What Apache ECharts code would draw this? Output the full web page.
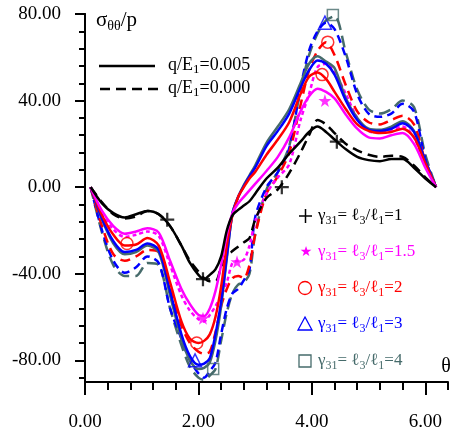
<!DOCTYPE html>
<html><head><meta charset="utf-8">
<script src="https://cdn.jsdelivr.net/npm/echarts@6/dist/echarts.min.js"></script>
<style>html,body{margin:0;padding:0;background:#fff}#c{width:457px;height:433px}</style>
</head><body><div id="c"></div>
<script>
// ---- data ----
const theta = [0.1,0.3,0.5,0.7,0.9,1.1,1.3,1.5,1.7,1.85,
  2.0,2.1,2.2,2.3,2.4,2.5,2.6,2.7,2.8,2.9,
  3.0,3.2,3.4,3.6,3.8,3.95,4.1,4.25,4.4,4.6,
  4.8,5.0,5.2,5.4,5.6,5.8,6.0,6.19];
const g1Solid = [0,-7.5,-12,-14,-12.5,-11,-12.5,-18,-27,-35,
  -40.5,-42.5,-40.5,-38,-32,-20,-13,-10.5,-8.5,-6.5,
  -3,4,9,15.5,21,25.5,28,25.5,22,17.5,
  14,12.5,12,13,13,9,4,0];
const g1Dash = [0,-7,-12.5,-14.5,-13.5,-11,-12.5,-18,-27,-34,
  -39,-42,-43.5,-43.5,-37,-32,-29.5,-27.5,-25.5,-23.5,
  -15,-5,-1,6.5,16,24,31,29,25,20,
  17,15,14,14.5,14,10,4.5,0];
const g15Solid = [0,-11,-18,-21.5,-20.5,-19,-21,-34,-47,-54,
  -59,-59.5,-56,-48,-36,-22,-12,-7.5,-4.5,-1.5,
  1.5,7.5,14,23,35,42,45.5,44,41,33.5,
  27,23,22.5,24,25,20,9,0];
const g15Dash = [0,-12,-19.5,-23,-22,-20.5,-22.5,-36,-50,-57,
  -61,-62,-59,-55,-50,-44,-35,-34,-33.5,-27,
  -16,-3,4.5,10.5,31,43,55.5,57,53,43,
  32,26,25,26.5,28,23,10,0];
const g2Solid = [0,-13,-22,-27,-26.5,-23.5,-27,-44,-62,-70,
  -72,-71,-68,-60,-46,-27,-13,-4.5,0,4,
  7,15,22,30,43,51,53,50,44,36,
  29,26,25,25.5,27,23,11,0];
const g2Dash = [0,-18,-31,-34,-32,-29,-30,-47,-64,-72,
  -76,-77,-76,-67,-55,-47,-42,-41,-42,-36,
  -22,-3,5,16,38,54,63,67,61,47,
  35,30,29,31,33,29,12,0];
const g3Solid = [0,-14.5,-25,-30,-29,-26,-29,-48,-68,-78,
  -82,-81.5,-79,-68,-53,-32,-12,-4.5,0.5,5,
  9,19,26,34,46,54,58.5,57,52,40,
  31,26.5,26,27,29.5,25.5,12,0];
const g3Dash = [0,-20,-34,-39.5,-37,-32,-35,-56,-70,-80,
  -86,-88,-85,-81,-68,-56,-49,-47,-43,-38,
  -14,0,7,18,46,63,72,76,73,60,
  43,34,32.5,34,38.5,35,13,0];
const g4Solid = [0,-15,-26,-31,-30,-27,-30,-50,-70,-80,
  -84,-83.5,-81,-71,-55,-33,-12,-4.5,1,5.5,
  10,20.5,28,36,48,57,60.5,58,55,41,
  32,27,26.5,28,30.5,26,12,0];
const g4Dash = [0,-21,-36,-41,-41,-35,-36,-56,-73,-83,
  -88,-89,-87,-84,-71,-58,-49,-45,-44,-40,
  -22,-1,7,19,45,61,71,77,79,62,
  45,36,34,36,40,37,15,0];
// marker points [theta, value]
const g1Marks = [[1.45,-15],[2.08,-42.5],[3.47,0],[4.44,21]];
const g15Marks = [[2.08,-60.5],[2.68,-34.5],[4.23,40]];
const g2Marks = [[0.74,-26],[1.97,-72],[4.18,52],[4.28,67]];
const g3Marks = [[1.94,-80],[4.23,76]];
const g4Marks = [[2.26,-84],[4.37,79.5]];
// tick labels
const xTicks = [0,2,4,6];
const yTicks = [-80,-40,0,40,80];
const gammaLabels = ['1','1.5','2','3','4'];

// ---- chart ----
const FONT = "'Liberation Serif','Times New Roman',serif";
const C = {k:'#000000', m:'#ff00ff', r:'#ff0000', b:'#0000ff', g:'#466b6b'};
const xMinor = []; for (let i = 0; i <= 16; i++) xMinor.push(+(i*0.4).toFixed(1));
const yMinor = []; for (let i = 0; i <= 21; i++) yMinor.push(-88 + 8*i);
const GRID_H = 368;

function pairs(vals){ return theta.map((t,i)=>[t, vals[i]]); }
function line(vals, color, dash, z){
  return {type:'line', data:pairs(vals), showSymbol:false, symbol:'none', smooth:0.3,
    lineStyle:{color:color, width:2.5, type: dash || 'solid'}, z: z, silent:true};
}
const PLUS = 'path://M4.2,0H5.8V4.2H10V5.8H5.8V10H4.2V5.8H0V4.2H4.2Z';
const STAR = 'path://M50,0L61.8,35.1L98.9,35.5L69.1,57.6L80.2,93L50,71.5L19.8,93L30.9,57.6L1.1,35.5L38.2,35.1Z';
function marks(data, symbol, size, color, filled){
  return {type:'scatter', xAxisIndex:1, yAxisIndex:1, data:data, symbol:symbol, symbolSize:size, z:10, silent:true,
    itemStyle: filled ? {color:color} : {color:'rgba(255,255,255,0)', borderColor:color, borderWidth:1.5}};
}

const rich = {
  n:{fontSize:17, fontFamily:FONT, lineHeight:22, verticalAlign:'middle'},
  s:{fontSize:12, fontFamily:FONT, lineHeight:10, verticalAlign:'bottom'}
};
const richL = {
  n:{fontSize:18, fontFamily:FONT, lineHeight:22, verticalAlign:'middle'},
  s:{fontSize:13, fontFamily:FONT, lineHeight:10, verticalAlign:'bottom'}
};
const rowY = [216, 252, 288, 324, 361];
const rowC = [C.k, C.m, C.r, C.b, C.g];
const graphics = [
  {type:'text', style:{text:'{n|σ}{s|θθ}{n|/p}', x:96, y:20, verticalAlign:'middle', fill:'#000',
    rich:{n:{fontSize:21, fontFamily:FONT, lineHeight:26, verticalAlign:'middle'}, s:{fontSize:14, fontFamily:FONT, lineHeight:11, verticalAlign:'bottom'}}}},
  {type:'line', shape:{x1:99,y1:66,x2:155,y2:66}, style:{stroke:'#000', lineWidth:2.5}},
  {type:'line', shape:{x1:100,y1:89,x2:158,y2:89}, style:{stroke:'#000', lineWidth:2.5, lineDash:[10,6]}},
  {type:'text', style:{text:'{n|q/E}{s|1}{n|=0.005}', x:168, y:65, verticalAlign:'middle', fill:'#000', rich:richL}},
  {type:'text', style:{text:'{n|q/E}{s|1}{n|=0.000}', x:168, y:88, verticalAlign:'middle', fill:'#000', rich:richL}},
  {type:'text', style:{text:'θ', x:446, y:367, align:'center', verticalAlign:'middle', fill:'#000', fontSize:20, fontFamily:FONT}},
  // legend symbols
  {type:'line', shape:{x1:299,y1:rowY[0],x2:312,y2:rowY[0]}, style:{stroke:C.k, lineWidth:1.5}},
  {type:'line', shape:{x1:305.5,y1:rowY[0]-7,x2:305.5,y2:rowY[0]+7}, style:{stroke:C.k, lineWidth:1.5}},
  {type:'text', style:{text:'★', x:306, y:rowY[1], align:'center', verticalAlign:'middle', fill:C.m, fontSize:14, fontFamily:'DejaVu Sans'}},
  {type:'circle', shape:{cx:305, cy:rowY[2], r:6.5}, style:{fill:'none', stroke:C.r, lineWidth:1.3}},
  {type:'polygon', shape:{points:[[305,rowY[3]-7],[312,rowY[3]+6],[298,rowY[3]+6]]}, style:{fill:'none', stroke:C.b, lineWidth:1.3}},
  {type:'rect', shape:{x:299, y:rowY[4]-6, width:12, height:12}, style:{fill:'none', stroke:C.g, lineWidth:1.3}}
];
gammaLabels.forEach((g,i)=>{
  graphics.push({type:'text', style:{text:'{n|γ}{s|31}{n|= ℓ}{s|3}{n|/ℓ}{s|1}{n|=' + g + '}', x:318, y:rowY[i],
    verticalAlign:'middle', fill: rowC[i], rich:rich}});
});

const axisCommon = {splitLine:{show:false}, axisPointer:{show:false}};
const option = {
  animation:false,
  backgroundColor:'#ffffff',
  grid:{left:85, top:14, width:363, height:GRID_H, containLabel:false},
  xAxis:[
    Object.assign({type:'value', min:0, max:6.4, position:'bottom',
      axisLine:{onZero:false, lineStyle:{color:'#000', width:2}},
      axisTick:{customValues:xTicks, length:13, lineStyle:{color:'#000', width:2}},
      axisLabel:{customValues:xTicks, formatter:v=>Number(v).toFixed(2), margin:31, fontSize:19, fontFamily:FONT, color:'#000'}}, axisCommon),
    Object.assign({type:'value', min:0, max:6.4, position:'top', offset:-GRID_H,
      axisLine:{show:false, onZero:false},
      axisTick:{show:true, inside:true, customValues:xMinor, length:8, lineStyle:{color:'#000', width:2}},
      axisLabel:{show:true, customValues:xMinor, formatter:()=>'', fontSize:1}}, axisCommon)
  ],
  yAxis:[
    Object.assign({type:'value', min:-90, max:80, position:'left',
      axisLine:{onZero:false, lineStyle:{color:'#000', width:2}},
      axisTick:{customValues:yTicks, length:10, lineStyle:{color:'#000', width:2}},
      axisLabel:{customValues:yTicks, formatter:v=>Number(v).toFixed(2), margin:24, fontSize:19, fontFamily:FONT, color:'#000'}}, axisCommon),
    Object.assign({type:'value', min:-90, max:80, position:'left', offset:0,
      axisLine:{show:true, onZero:false, lineStyle:{color:'#000', width:2}},
      axisTick:{show:true, customValues:yMinor, length:6, lineStyle:{color:'#000', width:2}},
      axisLabel:{show:true, customValues:yMinor, formatter:()=>'', fontSize:1}}, axisCommon)
  ],
  series:[
    line(g4Dash, C.g, [12,6], 2),
    line(g3Dash, C.b, [8,5], 2),
    line(g2Dash, C.r, [10,6], 2),
    line(g15Dash, C.m, [4,3], 2),
    line(g1Dash, C.k, [10,6], 2),
    line(g4Solid, C.g, null, 3),
    line(g3Solid, C.b, null, 3),
    line(g2Solid, C.r, null, 3),
    line(g15Solid, C.m, null, 3),
    line(g1Solid, C.k, null, 3),
    marks(g1Marks, PLUS, 14, C.k, true),
    marks(g15Marks, STAR, 13, C.m, true),
    marks(g2Marks, 'circle', 12, C.r, false),
    marks(g3Marks, 'triangle', 13, C.b, false),
    marks(g4Marks, 'rect', 11, C.g, false)
  ],
  graphic: graphics
};
const chart = echarts.init(document.getElementById('c'), null, {renderer:'canvas'});
chart.setOption(option);
</script>
</body></html>
